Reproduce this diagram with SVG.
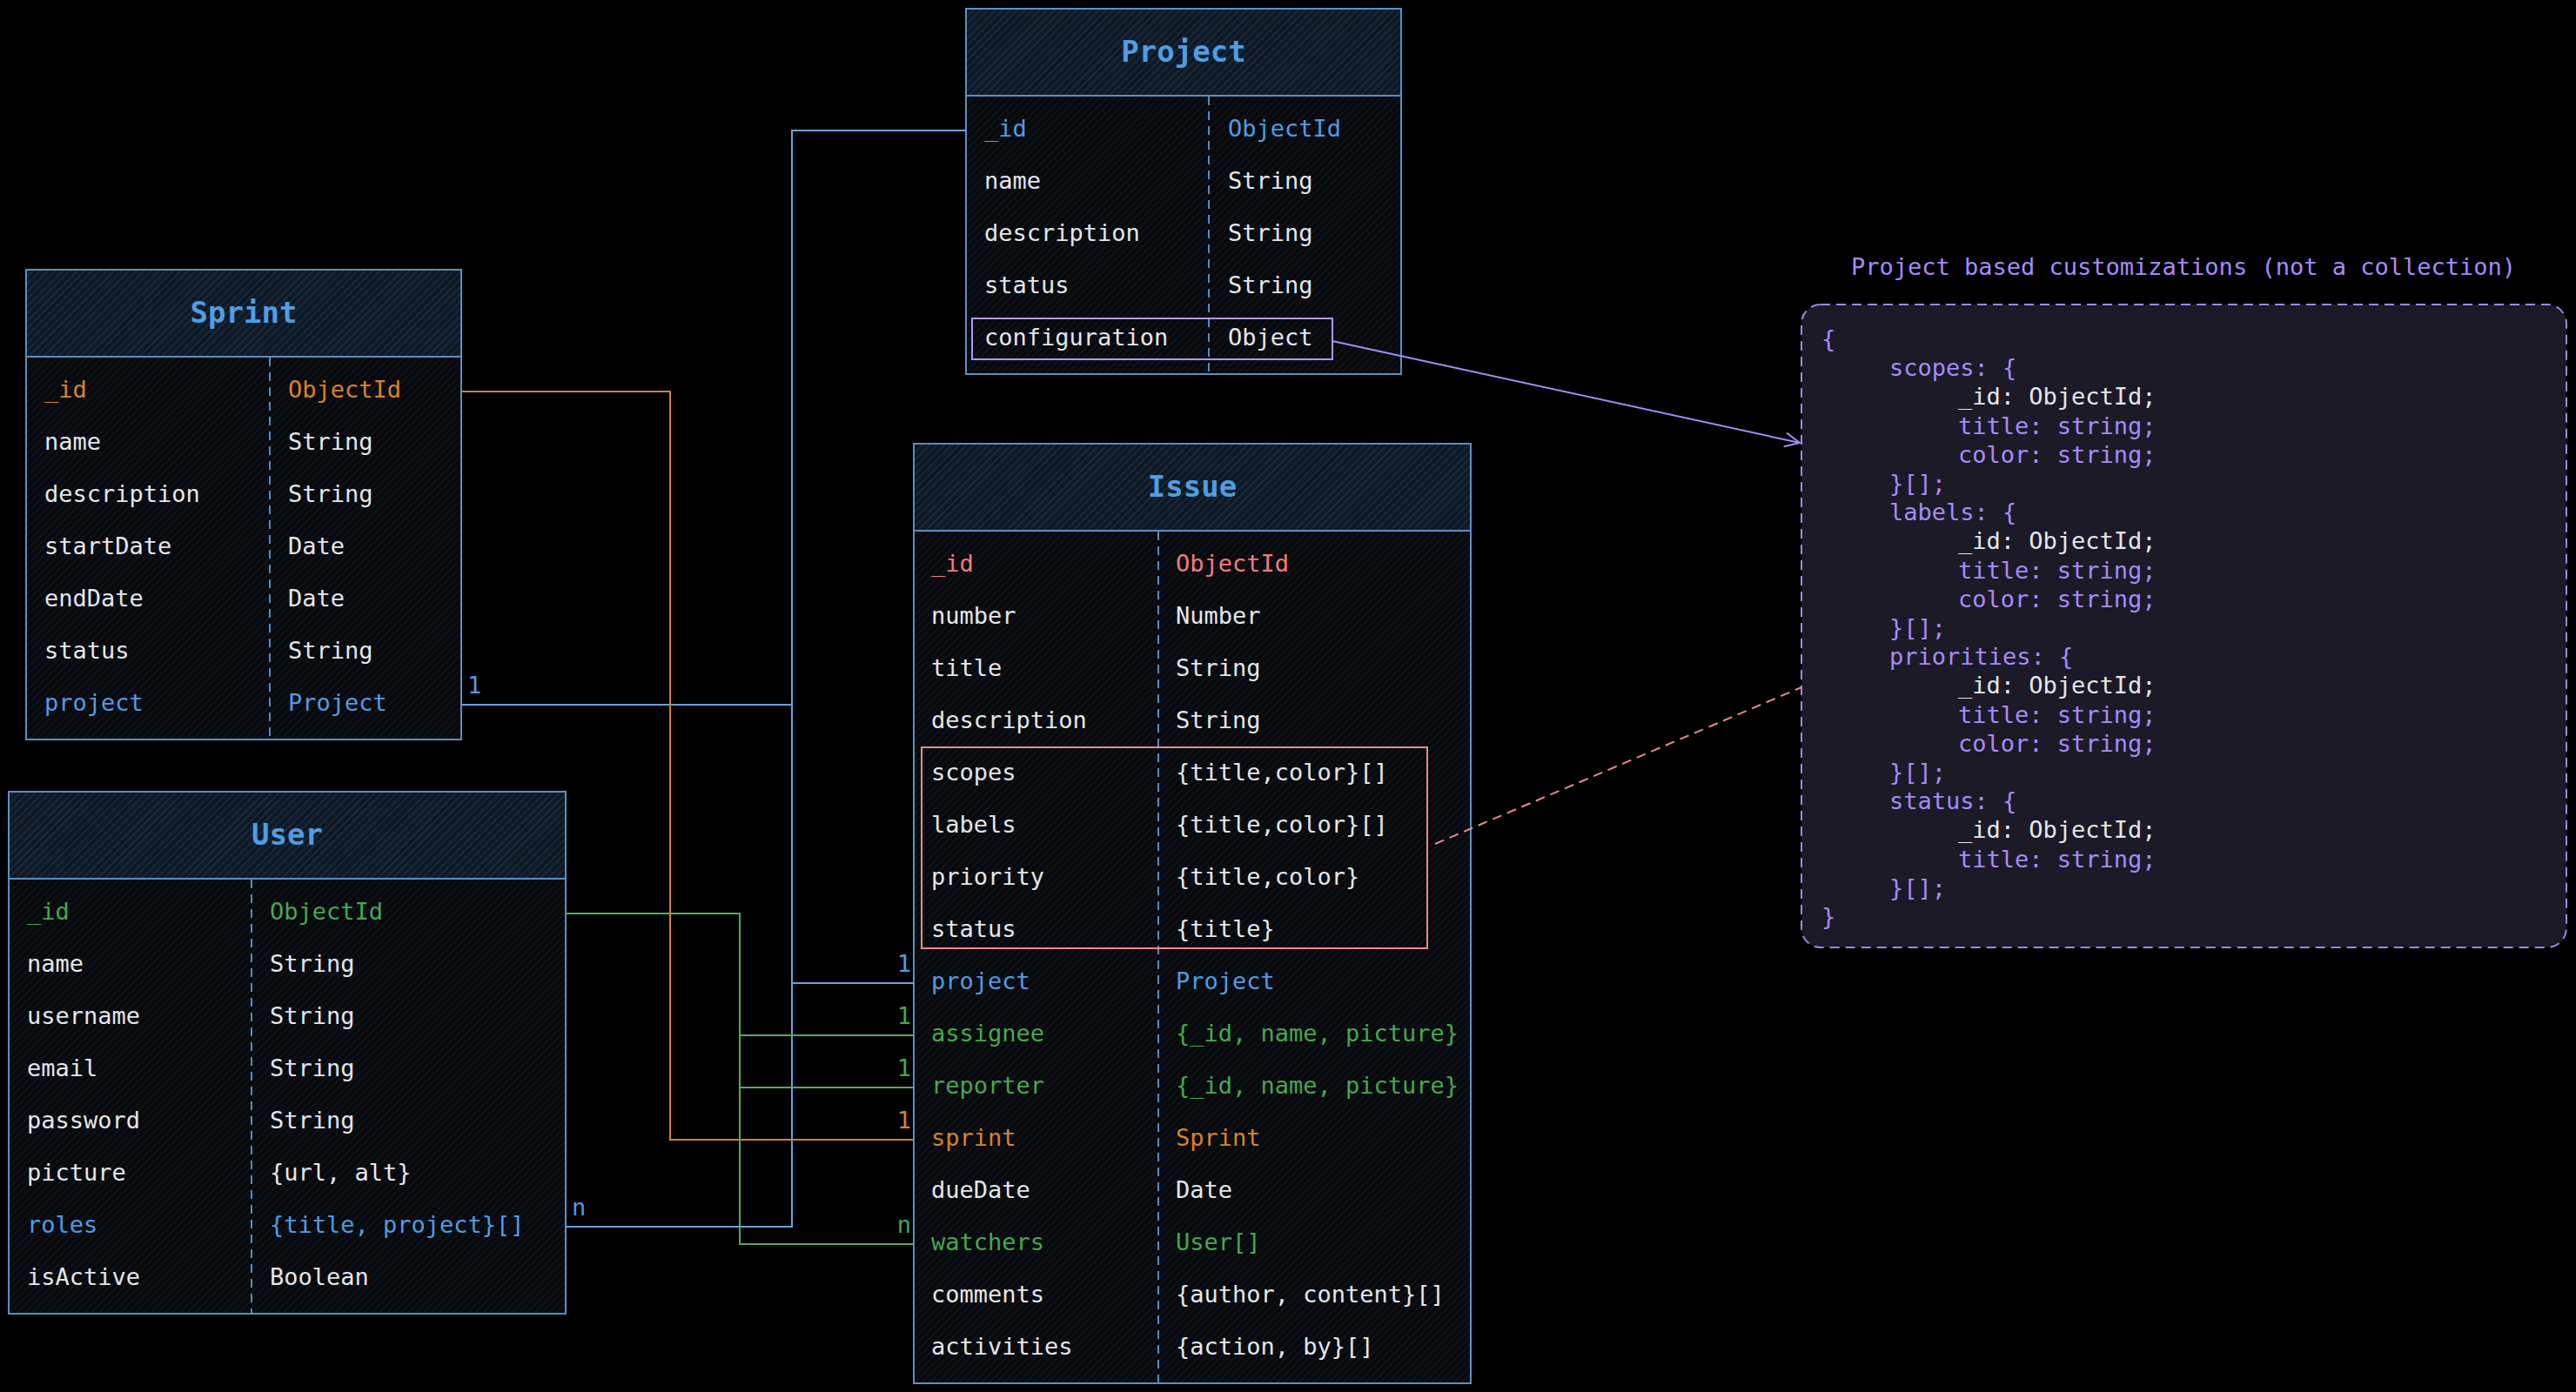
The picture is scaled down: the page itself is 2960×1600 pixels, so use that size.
<svg xmlns="http://www.w3.org/2000/svg" width="2960" height="1600" viewBox="0 0 2960 1600">
<defs>
<pattern id="hh" width="6" height="6" patternUnits="userSpaceOnUse" patternTransform="rotate(45)"><rect width="6" height="6" fill="#0d1824"/><line x1="1" y1="0" x2="1" y2="6" stroke="#1d2d3f" stroke-width="1.6"/></pattern>
<pattern id="bh" width="6" height="6" patternUnits="userSpaceOnUse" patternTransform="rotate(45)"><rect width="6" height="6" fill="#07090c"/><line x1="1" y1="0" x2="1" y2="6" stroke="#12171e" stroke-width="1.4"/></pattern>
<marker id="arr" viewBox="0 0 20 20" refX="19" refY="10" markerWidth="20" markerHeight="20" markerUnits="userSpaceOnUse" orient="auto"><path d="M2 2 L19 10 L2 18" fill="none" stroke="#a78bfa" stroke-width="2"/></marker>
</defs>
<style>
.t{font-family:'DejaVu Sans Mono','Liberation Mono',monospace;font-size:27px;dominant-baseline:central}
.ttl{font-family:'DejaVu Sans Mono','Liberation Mono',monospace;font-size:34px;font-weight:bold;text-anchor:middle;dominant-baseline:central;fill:#4f9de3}
.lbl{font-family:'DejaVu Sans Mono','Liberation Mono',monospace;font-size:27px}
.w{fill:#e4e6ea}.b{fill:#4f9de3}.o{fill:#d9822b}.g{fill:#46a84e}.r{fill:#f27c7c}.p{fill:#a78bfa}
.hd{fill:url(#hh)}.bd{fill:url(#bh)}
.frame{fill:none;stroke:#5a8fc4;stroke-width:2}
.div{stroke:#4f8dca;stroke-width:2;stroke-dasharray:10 7}
.cb{fill:none;stroke-width:2}
.cn{fill:none;stroke-width:2}
</style>
<rect width="2960" height="1600" fill="#000"/>

<g id="project">
<rect class="bd" x="1110" y="110" width="500" height="320"/>
<rect class="hd" x="1110" y="10" width="500" height="100"/>
<rect class="frame" x="1110" y="10" width="500" height="420"/>
<line x1="1110" y1="110" x2="1610" y2="110" stroke="#5a8fc4" stroke-width="2"/>
<line class="div" x1="1389" y1="111" x2="1389" y2="429"/>
<text class="ttl" x="1360" y="59">Project</text>
<text class="t b" x="1131" y="147">_id</text><text class="t b" x="1411" y="147">ObjectId</text>
<text class="t w" x="1131" y="207">name</text><text class="t w" x="1411" y="207">String</text>
<text class="t w" x="1131" y="267">description</text><text class="t w" x="1411" y="267">String</text>
<text class="t w" x="1131" y="327">status</text><text class="t w" x="1411" y="327">String</text>
<text class="t w" x="1131" y="387">configuration</text><text class="t w" x="1411" y="387">Object</text>
<rect class="cb" stroke="#b197fc" x="1117" y="366" width="414" height="47"/>
</g>

<g id="sprint">
<rect class="bd" x="30" y="410" width="500" height="440"/>
<rect class="hd" x="30" y="310" width="500" height="100"/>
<rect class="frame" x="30" y="310" width="500" height="540"/>
<line x1="30" y1="410" x2="530" y2="410" stroke="#5a8fc4" stroke-width="2"/>
<line class="div" x1="310" y1="411" x2="310" y2="849"/>
<text class="ttl" x="280" y="359">Sprint</text>
<text class="t o" x="51" y="447">_id</text><text class="t o" x="331" y="447">ObjectId</text>
<text class="t w" x="51" y="507">name</text><text class="t w" x="331" y="507">String</text>
<text class="t w" x="51" y="567">description</text><text class="t w" x="331" y="567">String</text>
<text class="t w" x="51" y="627">startDate</text><text class="t w" x="331" y="627">Date</text>
<text class="t w" x="51" y="687">endDate</text><text class="t w" x="331" y="687">Date</text>
<text class="t w" x="51" y="747">status</text><text class="t w" x="331" y="747">String</text>
<text class="t b" x="51" y="807">project</text><text class="t b" x="331" y="807">Project</text>
</g>

<g id="user">
<rect class="bd" x="10" y="1010" width="640" height="500"/>
<rect class="hd" x="10" y="910" width="640" height="100"/>
<rect class="frame" x="10" y="910" width="640" height="600"/>
<line x1="10" y1="1010" x2="650" y2="1010" stroke="#5a8fc4" stroke-width="2"/>
<line class="div" x1="289" y1="1011" x2="289" y2="1509"/>
<text class="ttl" x="330" y="959">User</text>
<text class="t g" x="31" y="1047">_id</text><text class="t g" x="310" y="1047">ObjectId</text>
<text class="t w" x="31" y="1107">name</text><text class="t w" x="310" y="1107">String</text>
<text class="t w" x="31" y="1167">username</text><text class="t w" x="310" y="1167">String</text>
<text class="t w" x="31" y="1227">email</text><text class="t w" x="310" y="1227">String</text>
<text class="t w" x="31" y="1287">password</text><text class="t w" x="310" y="1287">String</text>
<text class="t w" x="31" y="1347">picture</text><text class="t w" x="310" y="1347">{url, alt}</text>
<text class="t b" x="31" y="1407">roles</text><text class="t b" x="310" y="1407">{title, project}[]</text>
<text class="t w" x="31" y="1467">isActive</text><text class="t w" x="310" y="1467">Boolean</text>
</g>

<g id="issue">
<rect class="bd" x="1050" y="610" width="640" height="980"/>
<rect class="hd" x="1050" y="510" width="640" height="100"/>
<rect class="frame" x="1050" y="510" width="640" height="1080"/>
<line x1="1050" y1="610" x2="1690" y2="610" stroke="#5a8fc4" stroke-width="2"/>
<line class="div" x1="1331" y1="611" x2="1331" y2="1589"/>
<text class="ttl" x="1370" y="559">Issue</text>
<text class="t r" x="1070" y="647">_id</text><text class="t r" x="1351" y="647">ObjectId</text>
<text class="t w" x="1070" y="707">number</text><text class="t w" x="1351" y="707">Number</text>
<text class="t w" x="1070" y="767">title</text><text class="t w" x="1351" y="767">String</text>
<text class="t w" x="1070" y="827">description</text><text class="t w" x="1351" y="827">String</text>
<text class="t w" x="1070" y="887">scopes</text><text class="t w" x="1351" y="887">{title,color}[]</text>
<text class="t w" x="1070" y="947">labels</text><text class="t w" x="1351" y="947">{title,color}[]</text>
<text class="t w" x="1070" y="1007">priority</text><text class="t w" x="1351" y="1007">{title,color}</text>
<text class="t w" x="1070" y="1067">status</text><text class="t w" x="1351" y="1067">{title}</text>
<text class="t b" x="1070" y="1127">project</text><text class="t b" x="1351" y="1127">Project</text>
<text class="t g" x="1070" y="1187">assignee</text><text class="t g" x="1351" y="1187">{_id, name, picture}</text>
<text class="t g" x="1070" y="1247">reporter</text><text class="t g" x="1351" y="1247">{_id, name, picture}</text>
<text class="t o" x="1070" y="1307">sprint</text><text class="t o" x="1351" y="1307">Sprint</text>
<text class="t w" x="1070" y="1367">dueDate</text><text class="t w" x="1351" y="1367">Date</text>
<text class="t g" x="1070" y="1427">watchers</text><text class="t g" x="1351" y="1427">User[]</text>
<text class="t w" x="1070" y="1487">comments</text><text class="t w" x="1351" y="1487">{author, content}[]</text>
<text class="t w" x="1070" y="1547">activities</text><text class="t w" x="1351" y="1547">{action, by}[]</text>
<rect class="cb" stroke="#ef8a8a" x="1059" y="859" width="581" height="231"/>
</g>

<g id="customizations">
<text class="t p" x="2509" y="306" text-anchor="middle">Project based customizations (not a collection)</text>
<rect x="2070" y="350" width="879" height="739" rx="22" fill="#1c1a26" stroke="#9d88e6" stroke-width="2" stroke-dasharray="11 7"/>
<text class="t p" x="2093" y="389">{</text>
<text class="t p" x="2171" y="422">scopes: {</text>
<text class="t w" x="2250" y="455">_id: ObjectId;</text>
<text class="t p" x="2250" y="489">title: string;</text>
<text class="t p" x="2250" y="522">color: string;</text>
<text class="t p" x="2171" y="555">}[];</text>
<text class="t p" x="2171" y="588">labels: {</text>
<text class="t w" x="2250" y="621">_id: ObjectId;</text>
<text class="t p" x="2250" y="655">title: string;</text>
<text class="t p" x="2250" y="688">color: string;</text>
<text class="t p" x="2171" y="721">}[];</text>
<text class="t p" x="2171" y="754">priorities: {</text>
<text class="t w" x="2250" y="787">_id: ObjectId;</text>
<text class="t p" x="2250" y="821">title: string;</text>
<text class="t p" x="2250" y="854">color: string;</text>
<text class="t p" x="2171" y="887">}[];</text>
<text class="t p" x="2171" y="920">status: {</text>
<text class="t w" x="2250" y="953">_id: ObjectId;</text>
<text class="t p" x="2250" y="987">title: string;</text>
<text class="t p" x="2171" y="1020">}[];</text>
<text class="t p" x="2093" y="1053">}</text>
</g>

<g id="connectors">
<path class="cn" stroke="#6aa1dc" d="M1110 150 H910 V1410 H650"/>
<path class="cn" stroke="#6aa1dc" d="M910 810 H530"/>
<path class="cn" stroke="#6aa1dc" d="M910 1130 H1050"/>
<path class="cn" stroke="#d07f3a" d="M530 450 H770 V1310 H1050"/>
<path class="cn" stroke="#5aa85e" d="M650 1050 H850 V1430 H1050"/>
<path class="cn" stroke="#5aa85e" d="M850 1190 H1050"/>
<path class="cn" stroke="#5aa85e" d="M850 1250 H1050"/>
<path class="cn" stroke="#a78bfa" d="M1531 392 L2068 509" marker-end="url(#arr)"/>
<path class="cn" stroke="#ef8a8a" stroke-dasharray="11 7" d="M1649 970 L2070 790"/>
<text class="lbl b" x="537" y="797">1</text>
<text class="lbl b" x="1047" y="1117" text-anchor="end">1</text>
<text class="lbl g" x="1047" y="1177" text-anchor="end">1</text>
<text class="lbl g" x="1047" y="1237" text-anchor="end">1</text>
<text class="lbl o" x="1047" y="1297" text-anchor="end">1</text>
<text class="lbl g" x="1047" y="1417" text-anchor="end">n</text>
<text class="lbl b" x="657" y="1397">n</text>
</g>
</svg>
